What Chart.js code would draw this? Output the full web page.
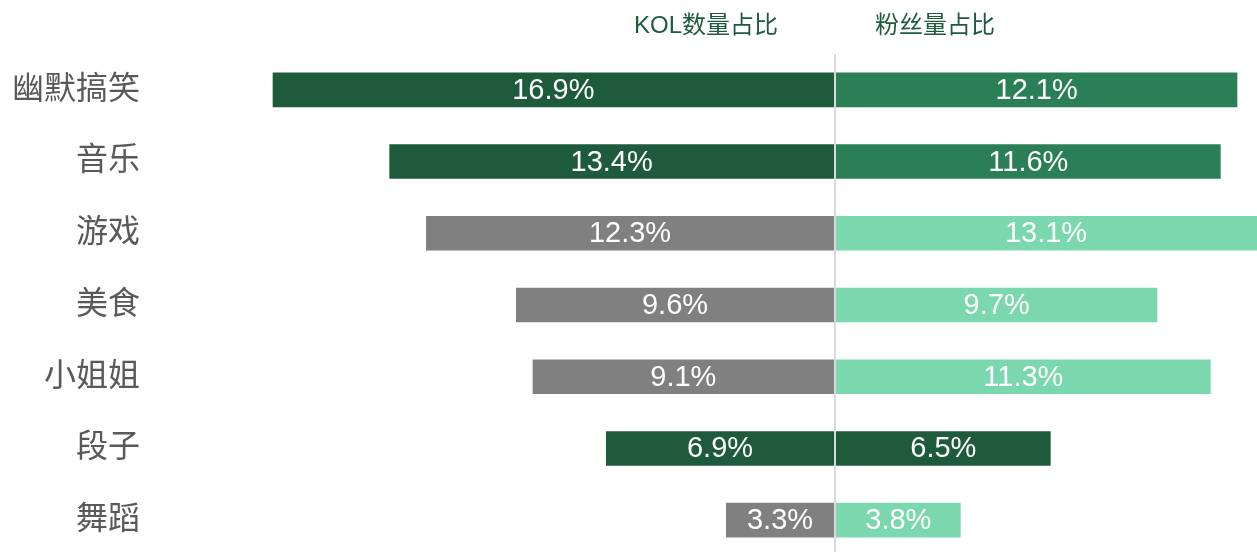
<!DOCTYPE html>
<html>
<head>
<meta charset="utf-8">
<script src="https://cdn.jsdelivr.net/npm/chart.js@4"></script>
<style>
  html, body { margin: 0; padding: 0; background: #fff; }
  #wrap { width: 1257px; height: 552px; position: relative; }
</style>
</head>
<body>
<div id="wrap"><canvas id="butterfly"></canvas></div>
<script>
var categories = ["幽默搞笑", "音乐", "游戏", "美食", "小姐姐", "段子", "舞蹈"]
var kolShare = [16.9, 13.4, 12.3, 9.6, 9.1, 6.9, 3.3]
var fanShare = [12.1, 11.6, 13.1, 9.7, 11.3, 6.5, 3.8]
var headers = ["KOL数量占比", "粉丝量占比"]

// colours per bar (dark = highlighted rows)
var kolColors = ["#1E5A3C", "#1E5A3C", "#808080", "#808080", "#808080", "#1E5A3C", "#808080"]
var fanColors = ["#2A7F57", "#2A7F57", "#7AD7AE", "#7AD7AE", "#7AD7AE", "#1E5A3C", "#7AD7AE"]

const FONT = "'Liberation Sans', Arial, 'Noto Sans CJK SC', sans-serif"

// center line + headers + value labels
const butterflyPlugin = {
    id: 'butterfly',
    afterLayout(chart) {
        // last row sits slightly below the canvas edge in the original
        const y = chart.scales.y
        y.bottom = chart.height + 4
        y.configure()
    },
    afterDatasetsDraw(chart) {
        const {ctx, chartArea, scales} = chart
        const x0 = scales.x.getPixelForValue(0)

        ctx.save()
        ctx.strokeStyle = "#D9D9D9"
        ctx.lineWidth = 2
        ctx.beginPath()
        ctx.moveTo(x0, chartArea.top)
        ctx.lineTo(x0, chart.height)
        ctx.stroke()

        // white value labels in the middle of each bar
        ctx.fillStyle = "#FFFFFF"
        ctx.font = "29px " + FONT
        ctx.textAlign = "center"
        ctx.textBaseline = "middle"
        chart.data.datasets.forEach((ds, di) => {
            const meta = chart.getDatasetMeta(di)
            meta.data.forEach((bar, i) => {
                const right = Math.min(Math.max(bar.x, bar.base), chartArea.right)
                const left = Math.min(bar.x, bar.base)
                const cx = (left + right) / 2
                ctx.fillText(Math.abs(ds.data[i]).toFixed(1) + "%", cx, bar.y + 1)
            })
        })

        // headers
        ctx.fillStyle = "#1E5A3C"
        ctx.font = "24px " + FONT
        ctx.fillText(headers[0], x0 - 129, 26)
        ctx.fillText(headers[1], x0 + 100, 26)
        ctx.restore()
    }
}

new Chart(document.getElementById('butterfly'), {
    type: 'bar',
    data: {
        labels: categories,
        datasets: [
            {
                label: headers[0],
                data: kolShare.map(v => -v),
                backgroundColor: kolColors,
                borderColor: "rgba(255,255,255,0.7)",
                borderWidth: 1,
                borderSkipped: false,
                barPercentage: 0.51,
                categoryPercentage: 1
            },
            {
                label: headers[1],
                data: fanShare,
                backgroundColor: fanColors,
                borderColor: "rgba(255,255,255,0.7)",
                borderWidth: 1,
                borderSkipped: false,
                barPercentage: 0.51,
                categoryPercentage: 1
            }
        ]
    },
    options: {
        indexAxis: 'y',
        responsive: true,
        maintainAspectRatio: false,
        animation: false,
        layout: {
            padding: {top: 54, left: 0, right: 0, bottom: 0}
        },
        scales: {
            x: {
                stacked: true,
                min: -20.55,
                max: 12.66,
                display: false
            },
            y: {
                stacked: true,
                grid: {display: false, drawTicks: false},
                border: {display: false},
                ticks: {
                    color: "#595959",
                    font: {size: 32, family: FONT},
                    padding: 10
                },
                afterFit: (scale) => {
                    scale.width = 150
                    scale.paddingTop = 0
                    scale.paddingBottom = 0
                }
            }
        },
        plugins: {
            legend: {display: false},
            tooltip: {enabled: false}
        }
    },
    plugins: [butterflyPlugin]
})
</script>
</body>
</html>
